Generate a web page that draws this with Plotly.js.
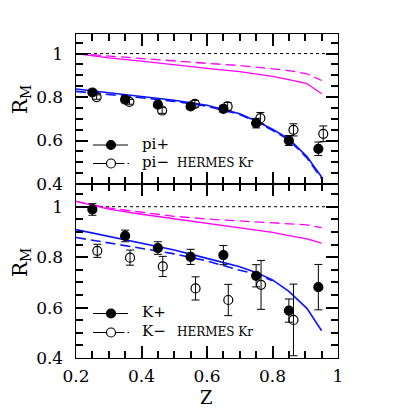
<!DOCTYPE html>
<html>
<head>
<meta charset="utf-8">
<script src="https://cdn.plot.ly/plotly-3.0.1.min.js"></script>
<style>
  html, body { margin: 0; padding: 0; background: #fff; }
  #chart { width: 409px; height: 409px; }
</style>
</head>
<body>
<div id="chart"></div>
<script>
// HERMES Kr multiplicity ratios

// top panel: pions
const piPlusZ = [0.25, 0.35, 0.45, 0.55, 0.65, 0.75, 0.85, 0.94];
const piPlusR = [0.821, 0.788, 0.765, 0.757, 0.746, 0.680, 0.600, 0.562];
const piPlusErr = [0.010, 0.011, 0.013, 0.012, 0.016, 0.022, 0.023, 0.031];

const piMinusZ = [0.263, 0.363, 0.463, 0.563, 0.663, 0.763, 0.864, 0.955];
const piMinusR = [0.800, 0.778, 0.738, 0.769, 0.757, 0.703, 0.649, 0.631];
const piMinusErr = [0.010, 0.011, 0.013, 0.015, 0.018, 0.026, 0.028, 0.036];

// bottom panel: kaons
const kPlusZ = [0.25, 0.35, 0.45, 0.55, 0.65, 0.75, 0.85, 0.94];
const kPlusR = [0.989, 0.884, 0.836, 0.801, 0.808, 0.726, 0.588, 0.681];
const kPlusErr = [0.023, 0.023, 0.025, 0.030, 0.038, 0.044, 0.046, 0.090];

const kMinusZ = [0.265, 0.365, 0.465, 0.565, 0.665, 0.765, 0.864];
const kMinusR = [0.825, 0.798, 0.763, 0.676, 0.630, 0.690, 0.551];
const kMinusErr = [0.026, 0.030, 0.040, 0.046, 0.062, 0.097, 0.142];

// model curves
const curveZ = [0.2, 0.3, 0.4, 0.5, 0.6, 0.7, 0.75, 0.8, 0.85, 0.905, 0.95];
const piMagSolid = [1.0, 0.98, 0.965, 0.947, 0.932, 0.917, 0.907, 0.895, 0.88, 0.862, 0.815];
const piMagDash = [1.0, 0.988, 0.977, 0.965, 0.955, 0.945, 0.938, 0.932, 0.922, 0.907, 0.876];
const piBlueSolid = [0.837, 0.82, 0.803, 0.785, 0.762, 0.723, 0.69, 0.652, 0.608, 0.526, 0.432];
const piBlueDash = [0.826, 0.812, 0.797, 0.78, 0.758, 0.72, 0.686, 0.647, 0.603, 0.52, 0.425];

const kMagSolid = [1.021, 0.99, 0.97, 0.952, 0.935, 0.918, 0.908, 0.898, 0.885, 0.872, 0.856];
const kMagDash = [1.021, 0.995, 0.978, 0.962, 0.951, 0.944, 0.94, 0.936, 0.932, 0.928, 0.917];
const kBlueSolid = [0.909, 0.882, 0.855, 0.828, 0.795, 0.762, 0.739, 0.71, 0.664, 0.597, 0.508];
const kBlueDashZ = [0.2, 0.3, 0.4, 0.5, 0.6, 0.7, 0.75, 0.8];
const kBlueDash = [0.878, 0.857, 0.836, 0.813, 0.785, 0.748, 0.733, 0.706];

const unityZ = [0.2, 1.0];
const unityR = [1, 1];

const W = 409, H = 409;
const px = x => x / W;
const py = y => 1 - y / H;

const MAGENTA = '#ff00ff';
const BLUE = '#0a14ff';
const FONT = 'DejaVu Serif';
const DASH = '10px,5px';

function line(x, y, color, width, dash, xa, ya) {
    return { x: x, y: y, type: 'scatter', mode: 'lines', xaxis: xa, yaxis: ya,
        line: { color: color, width: width, dash: dash } };
}

function points(x, y, err, symbol, xa, ya) {
    return { x: x, y: y, type: 'scatter', mode: 'markers', xaxis: xa, yaxis: ya,
        marker: { symbol: symbol, size: 9, color: 'black', line: { color: 'black', width: 1.2 } },
        error_y: { type: 'data', array: err, color: 'black', thickness: 1, width: 4 } };
}

const traces = [
    line(unityZ, unityR, 'black', 1, 'dot', 'x2', 'y2'),
    line(curveZ, piMagDash, MAGENTA, 1.3, DASH, 'x2', 'y2'),
    line(curveZ, piMagSolid, MAGENTA, 1.3, 'solid', 'x2', 'y2'),
    line(curveZ, piBlueDash, BLUE, 1.6, DASH, 'x2', 'y2'),
    line(curveZ, piBlueSolid, BLUE, 1.6, 'solid', 'x2', 'y2'),
    points(piPlusZ, piPlusR, piPlusErr, 'circle', 'x2', 'y2'),
    points(piMinusZ, piMinusR, piMinusErr, 'circle-open', 'x2', 'y2'),

    line(unityZ, unityR, 'black', 1, 'dot', 'x', 'y'),
    line(curveZ, kMagDash, MAGENTA, 1.3, DASH, 'x', 'y'),
    line(curveZ, kMagSolid, MAGENTA, 1.3, 'solid', 'x', 'y'),
    line(kBlueDashZ, kBlueDash, BLUE, 1.6, DASH, 'x', 'y'),
    line(curveZ, kBlueSolid, BLUE, 1.6, 'solid', 'x', 'y'),
    points(kPlusZ, kPlusR, kPlusErr, 'circle', 'x', 'y'),
    points(kMinusZ, kMinusR, kMinusErr, 'circle-open', 'x', 'y')
];

// panel frame in pixels
const LEFT = 76, RIGHT = 338, TOP = 34, MID = 184, BOTTOM = 358;

function xAxis(anchor, labels) {
    return {
        domain: [px(LEFT), px(RIGHT)], anchor: anchor, range: [0.2, 1.0],
        tickvals: [0.2, 0.4, 0.6, 0.8, 1.0], ticktext: ['0.2', '0.4', '0.6', '0.8', '1'],
        showticklabels: labels, ticks: 'inside', ticklen: 12, tickwidth: 2, tickcolor: '#000000',
        minor: { dtick: 0.05, tick0: 0.2, ticks: 'inside', ticklen: 7, tickwidth: 2, tickcolor: '#000000' },
        showline: true, linecolor: 'black', linewidth: 1.4, mirror: 'allticks', layer: 'above traces',
        showgrid: false, zeroline: false, ticklabelstandoff: 2,
        tickfont: { family: FONT, size: 17, color: 'black' }
    };
}

function yAxis(anchor, top, bottom) {
    return {
        domain: [py(bottom), py(top)], anchor: anchor, range: [0.4, 1.09],
        tickvals: [0.4, 0.6, 0.8, 1.0], ticktext: ['0.4', '0.6', '0.8', '1'],
        ticks: 'inside', ticklen: 12, tickwidth: 2, tickcolor: '#000000',
        minor: { dtick: 0.05, tick0: 0.4, ticks: 'inside', ticklen: 7, tickwidth: 2, tickcolor: '#000000' },
        showline: true, linecolor: 'black', linewidth: 1.4, mirror: 'allticks', layer: 'above traces',
        showgrid: false, zeroline: false, ticklabelstandoff: 8,
        tickfont: { family: FONT, size: 17, color: 'black' }
    };
}

// hand-drawn legend keys (pixel positions)
function legendKey(y, open) {
    const mx = 111, r = 4.5;
    const shapes = [];
    if (open) {
        shapes.push({ type: 'line', xref: 'paper', yref: 'paper', x0: px(93), x1: px(mx - r), y0: py(y), y1: py(y),
            line: { color: 'black', width: 1 } });
        shapes.push({ type: 'line', xref: 'paper', yref: 'paper', x0: px(mx + r), x1: px(129), y0: py(y), y1: py(y),
            line: { color: 'black', width: 1, dash: 'dashdot' } });
    } else {
        shapes.push({ type: 'line', xref: 'paper', yref: 'paper', x0: px(93), x1: px(128), y0: py(y), y1: py(y),
            line: { color: 'black', width: 1 } });
    }
    shapes.push({ type: 'circle', xref: 'paper', yref: 'paper',
        x0: px(mx - r), x1: px(mx + r), y0: py(y + r), y1: py(y - r),
        fillcolor: open ? 'rgba(0,0,0,0)' : 'black', line: { color: 'black', width: 1.2 } });
    return shapes;
}

function label(text, x, y, size, extra) {
    return Object.assign({ text: text, xref: 'paper', yref: 'paper', x: px(x), y: py(y),
        xanchor: 'left', yanchor: 'middle', showarrow: false,
        font: { family: FONT, size: size, color: 'black' } }, extra || {});
}

const layout = {
    width: W, height: H,
    margin: { l: 0, r: 0, t: 0, b: 0 },
    showlegend: false,
    xaxis: xAxis('y', true),
    yaxis: yAxis('x', MID, BOTTOM),
    xaxis2: xAxis('y2', false),
    yaxis2: yAxis('x2', TOP, MID),
    shapes: [].concat(legendKey(145, false), legendKey(163.5, true),
                      legendKey(313.5, false), legendKey(332.5, true)),
    annotations: [
        label('pi+', 140, 144, 15),
        label('pi\u2212', 140, 162, 15),
        label('HERMES Kr', 175, 163, 12),
        label('K+', 140, 312, 15),
        label('K\u2212', 140, 331, 15),
        label('HERMES Kr', 175, 332, 12),
        label('Z', 207, 397, 18, { xanchor: 'center' }),
        label('R<sub>M</sub>', 21, 100, 20, { xanchor: 'center', textangle: -90 }),
        label('R<sub>M</sub>', 21, 263, 20, { xanchor: 'center', textangle: -90 })
    ]
};

Plotly.newPlot('chart', traces, layout, { displayModeBar: false, staticPlot: true });
</script>
</body>
</html>
